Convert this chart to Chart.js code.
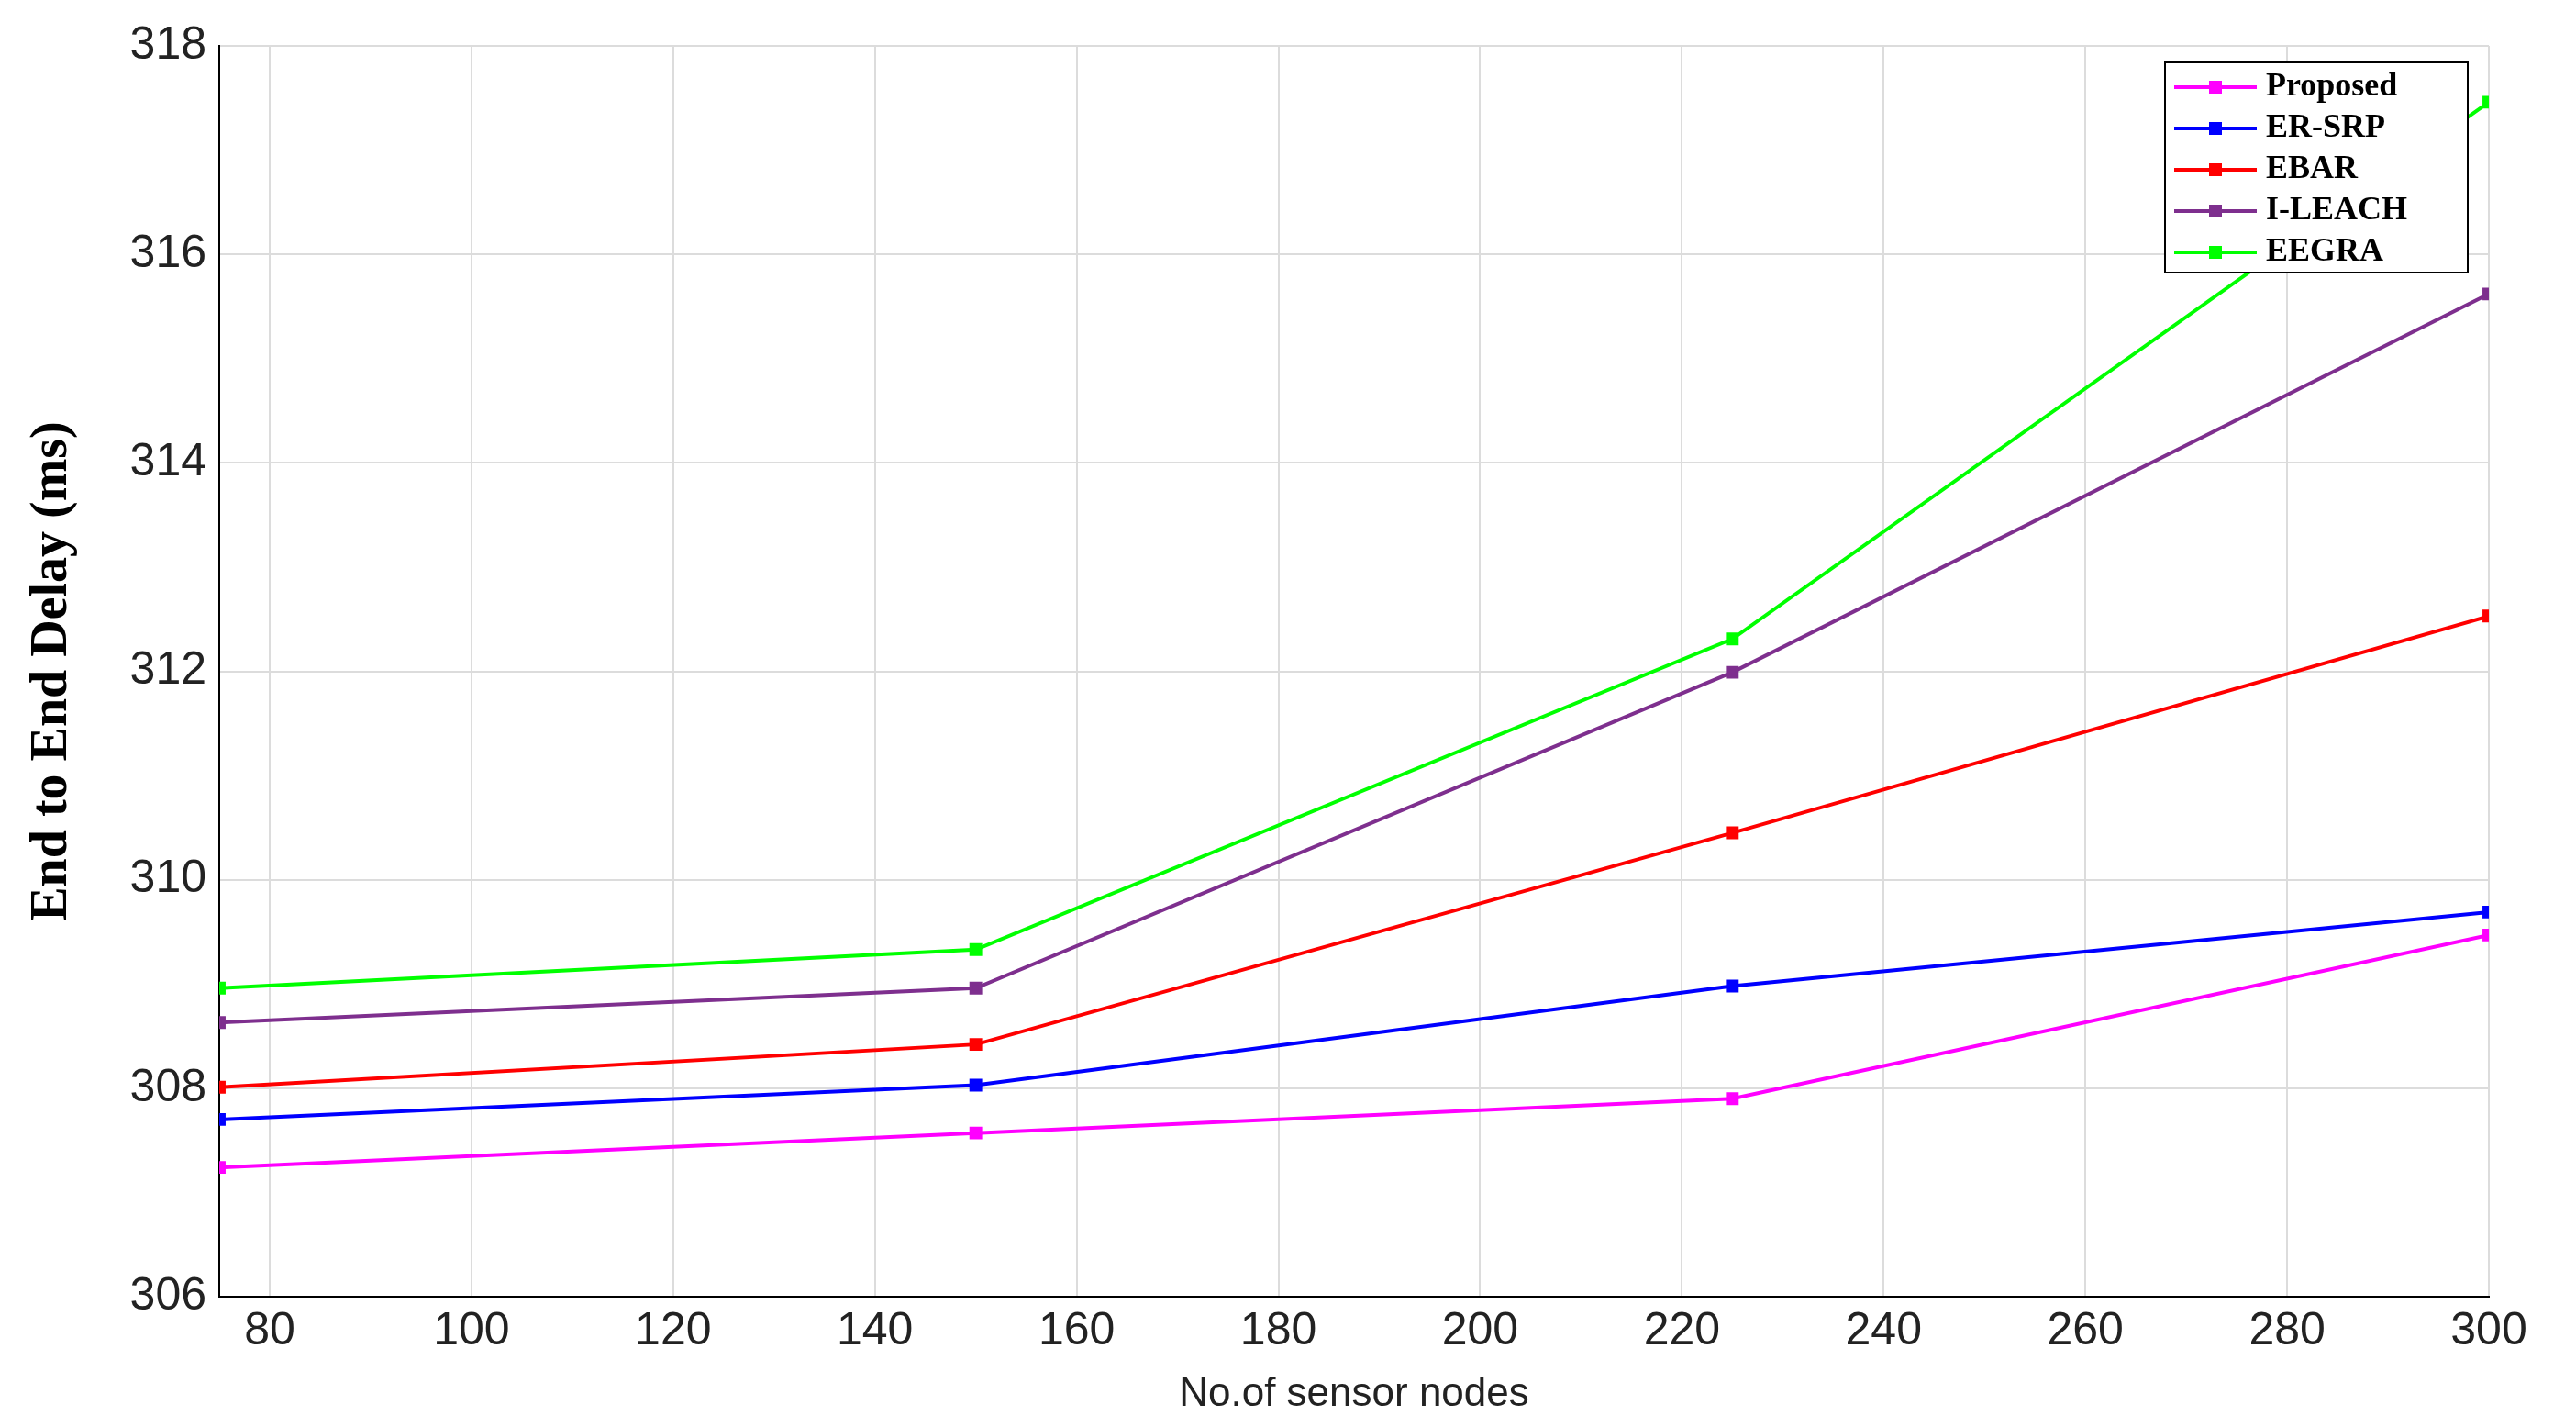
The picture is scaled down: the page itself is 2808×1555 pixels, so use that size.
<!DOCTYPE html>
<html><head><script src="https://cdn.jsdelivr.net/npm/chart.js@4"></script>
<style>html,body{margin:0;padding:0;background:#fff}</style></head>
<body><div style="width:2808px;height:1555px"><canvas id="c"></canvas></div>
<script>
const nodes=[75,150,225,300];
const seriesNames=['Proposed','ER-SRP','EBAR','I-LEACH','EEGRA'];
const proposed=[307.24,307.57,307.90,309.47];
const erSrp=[307.70,308.03,308.98,309.69];
const ebar=[308.01,308.42,310.45,312.53];
const iLeach=[308.63,308.96,311.99,315.62];
const eegra=[308.96,309.33,312.31,317.46];
const colors=['#ff00ff','#0000ff','#ff0000','#7e2f8e','#00ff00'];
const all=[proposed,erSrp,ebar,iLeach,eegra];
const ds=all.map((v,i)=>({label:seriesNames[i],data:v.map((y,j)=>({x:nodes[j],y})),borderColor:colors[i],backgroundColor:colors[i],borderWidth:4,pointRadius:7,pointStyle:'rect',tension:0}));
const legendBox={id:'lb',afterDraw(ch){const c=ch.ctx;const x=2360,y=68,w=330,h=229;c.save();c.fillStyle='#fff';c.fillRect(x,y,w,h);c.strokeStyle='#000';c.lineWidth=2;c.strokeRect(x,y,w,h);c.font='bold 36px "Liberation Serif"';c.textBaseline='middle';seriesNames.forEach((n,i)=>{const yy=y+27+i*45;c.strokeStyle=colors[i];c.lineWidth=4;c.beginPath();c.moveTo(x+10,yy);c.lineTo(x+100,yy);c.stroke();c.fillStyle=colors[i];c.fillRect(x+48,yy-7,14,14);c.fillStyle='#000';c.fillText(n,x+110,yy);});c.restore();}};
new Chart(document.getElementById('c'),{type:'line',data:{datasets:ds},plugins:[legendBox],
options:{responsive:true,maintainAspectRatio:false,animation:false,
layout:{padding:{top:50,right:95,left:20,bottom:5}},
plugins:{legend:{display:false},tooltip:{enabled:false}},
scales:{x:{type:'linear',min:75,max:300,afterBuildTicks(s){s.ticks=[80,100,120,140,160,180,200,220,240,260,280,300].map(v=>({value:v}));},
afterFit(s){s.height=137;},grid:{color:'#dcdcdc',lineWidth:2,drawTicks:false},border:{color:'#000',width:2},
ticks:{color:'#222',font:{size:50,family:'Liberation Sans'},padding:8,maxRotation:0,autoSkip:false},
title:{display:true,text:'No.of sensor nodes',color:'#222',font:{size:44,family:'Liberation Sans'},padding:{top:0}}},
y:{min:306,max:318,afterFit(s){s.width=219;},grid:{color:'#dcdcdc',lineWidth:2,drawTicks:false},border:{color:'#000',width:2},
ticks:{stepSize:2,color:'#222',font:{size:50,family:'Liberation Sans'},padding:14},
title:{display:true,text:'End to End Delay (ms)',color:'#000',font:{size:56,weight:'bold',family:'Liberation Serif'},padding:{bottom:0}}}}}});
</script></body></html>
